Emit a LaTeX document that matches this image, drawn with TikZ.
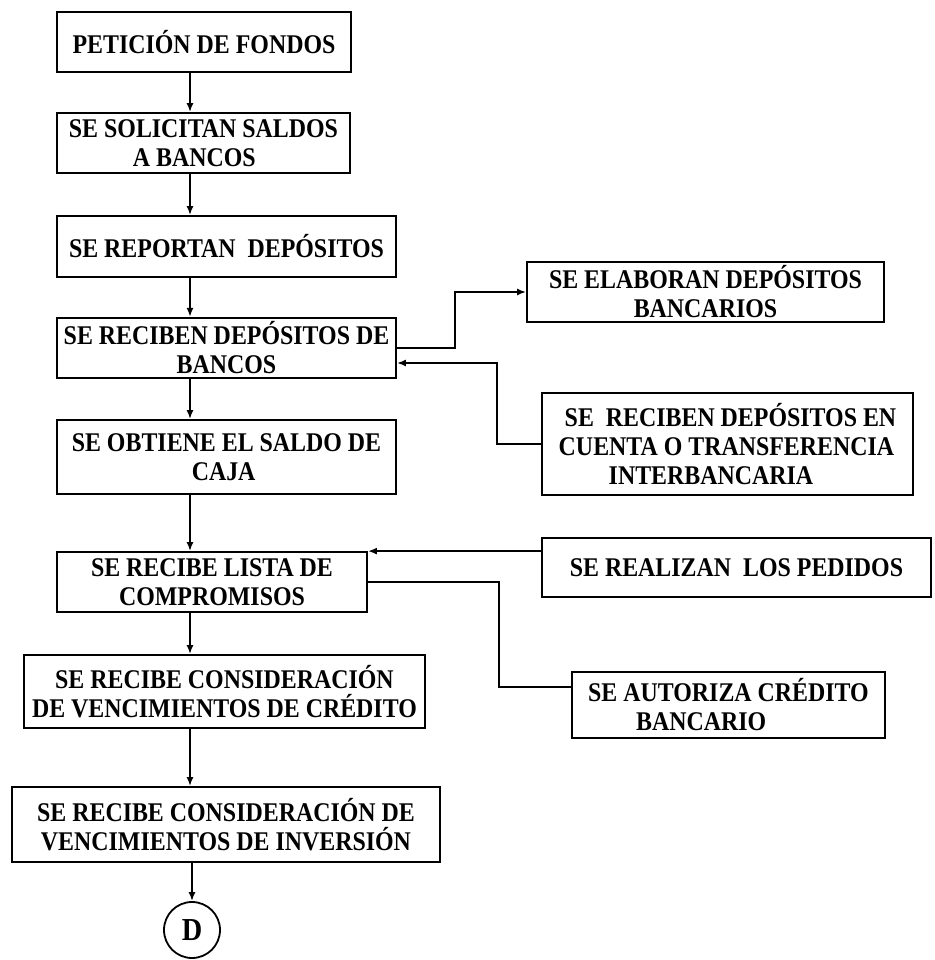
\documentclass[tikz,border=0pt]{standalone}
\usepackage{fontspec}
\setmainfont{Liberation Serif}[FakeStretch=0.885]
\usetikzlibrary{arrows.meta}

\tikzset{
  caja/.style={draw, line width=0.9pt, align=center, inner sep=2pt,
    font=\bfseries\fontsize{13.5}{14.5}\selectfont},
  flecha/.style={-{Latex[length=4.5pt,width=3.5pt]}},
}

\begin{document}
\begin{tikzpicture}[x=0.5pt,y=-0.5pt,line width=0.9pt]
      \useasboundingbox (0,0) rectangle (934,960);
      \draw
        (204,42) node[caja,minimum width=147pt,minimum height=30pt] (peticion) {PETICIÓN DE FONDOS}
        (203.5,143) node[caja,align=left,minimum width=146.5pt,minimum height=30pt] (solicitan) {SE SOLICITAN SALDOS\\\hspace*{32pt}A BANCOS}
        (226.5,246.5) node[caja,minimum width=169.5pt,minimum height=30.5pt] (reportan) {SE REPORTAN\ \ DEPÓSITOS}
        (226.5,348) node[caja,minimum width=169.5pt,minimum height=30pt] (reciben) {SE RECIBEN DEPÓSITOS DE\\BANCOS}
        (705.5,292) node[caja,minimum width=178.5pt,minimum height=30pt] (elaboran) {SE ELABORAN DEPÓSITOS\\BANCARIOS}
        (727.5,444) node[caja,align=left,minimum width=185.5pt,minimum height=51pt] (cuenta) {\ SE\ \ RECIBEN DEPÓSITOS EN\\CUENTA O TRANSFERENCIA\\\hspace*{25pt}INTERBANCARIA}
        (226.5,457) node[caja,align=left,minimum width=169.5pt,minimum height=37pt] (saldo) {SE OBTIENE EL SALDO DE\\\hspace*{60pt}CAJA}
        (212,582) node[caja,minimum width=155pt,minimum height=30pt] (lista) {SE RECIBE LISTA DE\\COMPROMISOS}
        (736.5,567.5) node[caja,minimum width=194.5pt,minimum height=29.5pt] (realizan) {SE REALIZAN\ \ LOS PEDIDOS}
        (728.5,705) node[caja,align=left,minimum width=156.5pt,minimum height=33pt] (autoriza) {SE AUTORIZA CRÉDITO\\\hspace*{24pt}BANCARIO}
        (224.5,691.5) node[caja,inner xsep=0.5pt,minimum width=200.5pt,minimum height=36.5pt] (credito) {SE RECIBE CONSIDERACIÓN\\DE VENCIMIENTOS DE CRÉDITO}
        (226,824.5) node[caja,minimum width=214pt,minimum height=37.5pt] (inversion) {SE RECIBE CONSIDERACIÓN DE\\VENCIMIENTOS DE INVERSIÓN}
        (192,930) node[caja,circle,minimum size=28pt,inner sep=0pt,font=\bfseries\fontsize{16}{16}\selectfont] (conD) {D};
      % eje de las flechas verticales
      \coordinate (eje) at (190,0);
      \begin{scope}[flecha]
        \draw (peticion.south -| eje) to (solicitan.north -| eje);
        \draw (solicitan.south -| eje) to (reportan.north -| eje);
        \draw (reportan.south -| eje) to (reciben.north -| eje);
        \draw (reciben.south -| eje) to (saldo.north -| eje);
        \draw (saldo.south -| eje) to (lista.north -| eje);
        \draw (lista.south -| eje) to (credito.north -| eje);
        \draw (credito.south -| eje) to (inversion.north -| eje);
        \draw (inversion.south -| conD.north) to (conD.north);
        \draw (reciben.east) -- ++(58,0) |- (elaboran.west);
        \draw (cuenta.west) -- ++(-44,0) |- ([yshift=-7.5pt]reciben.east);
        \draw (realizan.west |- lista.north east) -- (lista.north east);
      \end{scope}
      \draw (lista.east) -- ++(131,0) |- ([yshift=9pt]autoriza.west);
    \end{tikzpicture}
\end{document}
